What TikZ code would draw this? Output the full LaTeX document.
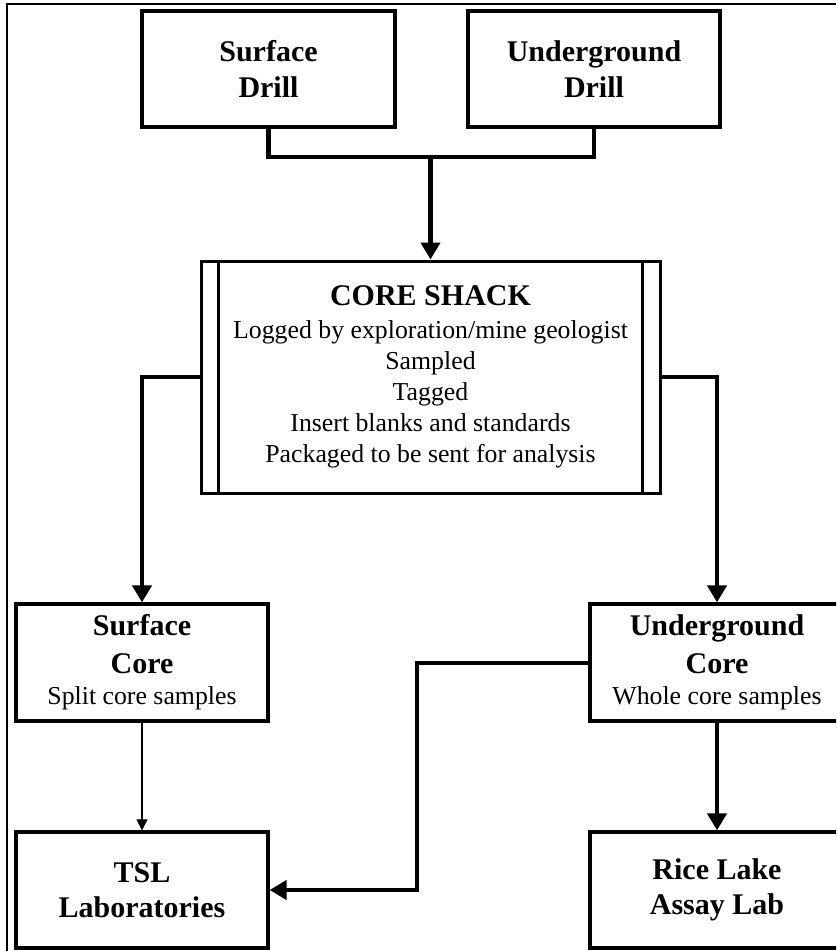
\documentclass[tikz,border=0pt]{standalone}
\usepackage{fontspec}
\setmainfont{Liberation Serif}
\usetikzlibrary{arrows.meta}
\newcommand\bt{\fontsize{30}{31}\selectfont\bfseries}
\newcommand\bodyfont{\fontsize{25.8}{31}\selectfont}
\tikzset{
  box/.style={draw, line width=3.3pt, align=center, inner sep=0pt, font=\bodyfont},
  conn/.style={line width=4.3pt},
  arr/.style={conn, -{Triangle[width=19pt,length=17pt]}},
  thinarr/.style={line width=1.2pt, -{Triangle[width=11pt,length=11pt]}},
}
\begin{document}
\begin{tikzpicture}[x=1pt,y=-1pt]
\useasboundingbox (0,0) rectangle (836,951);
\begin{scope}
\clip (0,0) rectangle (836,951);
% frame
\draw[line width=2.5pt] (7,951) -- (7,4) -- (836,4);

\node[box, minimum width=253, minimum height=116] (sd) at (268.5,69) {{\bt Surface}\\[5pt]{\bt Drill}};
\node[box, minimum width=252, minimum height=116] (ud) at (594,69) {{\bt Underground}\\[5pt]{\bt Drill}};
\node[box, line width=3pt, minimum width=459, minimum height=232] (cs) at (430.5,377)
  {{\bt CORE SHACK}\\[1.5pt]Logged by exploration/mine geologist\\Sampled\\Tagged\\Insert blanks and standards\\Packaged to be sent for analysis};
\draw[line width=3pt] ([xshift=19pt]cs.north west) -- ([xshift=19pt]cs.south west);
\draw[line width=3pt] ([xshift=-19pt]cs.north east) -- ([xshift=-19pt]cs.south east);

\node[box, minimum width=252, minimum height=117] (sc) at (142,662.5) {{\bt Surface}\\[7pt]{\bt Core}\\Split core samples};
\node[box, minimum width=254, minimum height=117] (uc) at (717,662.5) {{\bt Underground}\\[7pt]{\bt Core}\\Whole core samples};
\node[box, minimum width=252, minimum height=116] (tsl) at (142,890) {{\bt TSL}\\[4pt]{\bt Laboratories}};
\node[box, minimum width=254, minimum height=116] (rl) at (717,890) {{\bt Rice Lake}\\[4pt]{\bt Assay Lab}};

% connectors
\coordinate (j) at (430.5,157);
\draw[conn] (sd.south) |- (j) -| (ud.south);
\draw[arr] (j) -- (cs.north);
\draw[arr] (cs.west) -| (sc.north);
\draw[arr] (cs.east) -| (uc.north);
\draw[thinarr] (sc.south) -- (tsl.north);
\draw[arr] (uc.south) -- (rl.north);
\coordinate (k) at (417,663);
\draw[arr] (uc.west |- k) -- (k) |- (tsl.east);
\end{scope}
\end{tikzpicture}
\end{document}
